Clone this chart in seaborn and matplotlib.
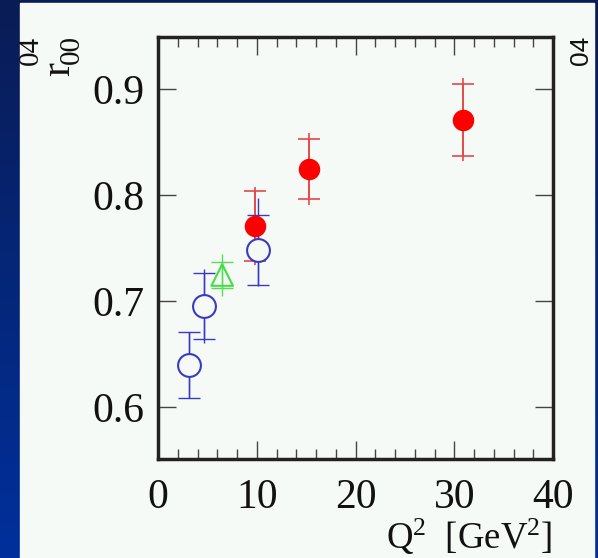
import numpy as np
import pandas as pd
import matplotlib
matplotlib.use("Agg")
import matplotlib.pyplot as plt
import seaborn as sns
from matplotlib.colors import LinearSegmentedColormap

# ---- data ----
red_q2 = [9.8, 15.3, 30.9]
red_r = [0.771, 0.8245, 0.871]
red_stat = [0.033, 0.028, 0.034]
red_tot = [0.037, 0.034, 0.039]

blue_q2 = [3.1, 4.66, 10.1]
blue_r = [0.640, 0.695, 0.748]
blue_stat = [0.031, 0.031, 0.033]
blue_tot_lo = [0.031, 0.035, 0.034]
blue_tot_hi = [0.031, 0.035, 0.049]

green_q2 = [6.5]
green_r = [0.7245]
green_stat = [0.0125]
green_tot = [0.020]

x_ticks = [0, 10, 20, 30, 40]
y_ticks = [0.6, 0.7, 0.8, 0.9]

sns.set_theme(style="ticks")
plt.rcParams['font.family'] = ['Liberation Serif', 'DejaVu Serif']
plt.rcParams['mathtext.fontset'] = 'custom'
plt.rcParams['mathtext.rm'] = 'Liberation Serif'
plt.rcParams['mathtext.it'] = 'Liberation Serif'

W, H = 598, 558
fig = plt.figure(figsize=(W / 100, H / 100), dpi=100)

# background: blue gradient frame with a light panel
bg = fig.add_axes([0, 0, 1, 1], zorder=-10)
grad = np.linspace(0, 1, 256).reshape(-1, 1)
cmap = LinearSegmentedColormap.from_list("bgblue", ["#0a1c55", "#00309c"])
bg.imshow(grad, aspect="auto", cmap=cmap, extent=[0, W, H, 0])
bg.add_patch(plt.Rectangle((20, 3), 574, H - 3, color="#f6faf7"))
bg.set_xlim(0, W)
bg.set_ylim(H, 0)
bg.axis("off")

ax = fig.add_axes([158 / W, 1 - 459 / H, (553 - 158) / W, (459 - 37) / H])
ax.set_facecolor("none")

# error bars: total (no caps) + statistical (with caps)
def draw(xs, ys, stat, tlo, thi, color, lw=1.0):
    ax.errorbar(xs, ys, yerr=[tlo, thi], fmt="none", ecolor=color, elinewidth=lw, capsize=0, zorder=2)
    ax.errorbar(xs, ys, yerr=stat, fmt="none", ecolor=color, elinewidth=lw, capsize=8, capthick=lw, zorder=2)

draw(red_q2, red_r, red_stat, red_tot, red_tot, "#e5484a", lw=1.2)
draw(blue_q2, blue_r, blue_stat, blue_tot_lo, blue_tot_hi, "#3a3ac0")
draw(green_q2, green_r, green_stat, green_tot, green_tot, "#55dd55")

df_red = pd.DataFrame({"q2": red_q2, "r": red_r})
df_blue = pd.DataFrame({"q2": blue_q2, "r": blue_r})
df_green = pd.DataFrame({"q2": green_q2, "r": green_r})

sns.scatterplot(data=df_red, x="q2", y="r", ax=ax, marker="o", s=240, color="#ff0000",
                edgecolor="#ff0000", linewidth=0, zorder=4, legend=False)
sns.scatterplot(data=df_blue, x="q2", y="r", ax=ax, marker="o", s=270, facecolor="#f6faf7",
                edgecolor="#3a3ac0", linewidth=1.5, zorder=3, legend=False)
sns.scatterplot(data=df_green, x="q2", y="r", ax=ax, marker="^", s=240, facecolor="none",
                edgecolor="#44dd44", linewidth=1.5, zorder=3, legend=False)

ax.set_xlim(0, 40)
ax.set_ylim(0.551, 0.949)
ax.set_xticks(x_ticks)
ax.set_xticklabels([str(t) for t in x_ticks])
ax.set_yticks(y_ticks)
ax.set_yticklabels([f"{t:.1f}" for t in y_ticks])
ax.set_xticks(np.arange(0, 41, 2), minor=True)
ax.tick_params(axis="both", which="major", direction="in", length=13, width=1.0,
               color="#444444", labelsize=30, labelcolor="#111111", top=True, right=True)
ax.tick_params(axis="x", which="major", pad=14)
ax.tick_params(axis="y", which="major", pad=10)
ax.tick_params(axis="x", which="minor", direction="in", length=7, width=1.0,
               color="#444444", top=True, bottom=True)
for s in ax.spines.values():
    s.set_linewidth(2.5)
    s.set_color("#222222")
ax.set_xlabel("")
ax.set_ylabel("")

fig.text(552 / W, 1 - 537 / H, r"Q$^2$  [GeV$^2$]", ha="right", va="center", fontsize=26.5, color="#111111")
# y-axis label r^{04}_{00}, rotated
fig.text(59 / W, 1 - 69 / H, "r", rotation=90, ha="center", va="center", fontsize=30, color="#111111")
fig.text(31 / W, 1 - 50 / H, "04", rotation=90, ha="center", va="center", fontsize=21, color="#111111")
fig.text(72 / W, 1 - 50 / H, "00", rotation=90, ha="center", va="center", fontsize=21, color="#111111")
fig.text(581 / W, 1 - 50 / H, "04", rotation=90, ha="center", va="center", fontsize=19,
         color="#111111", family=["Liberation Sans", "DejaVu Sans"])

fig.savefig("out.png", dpi=100)
